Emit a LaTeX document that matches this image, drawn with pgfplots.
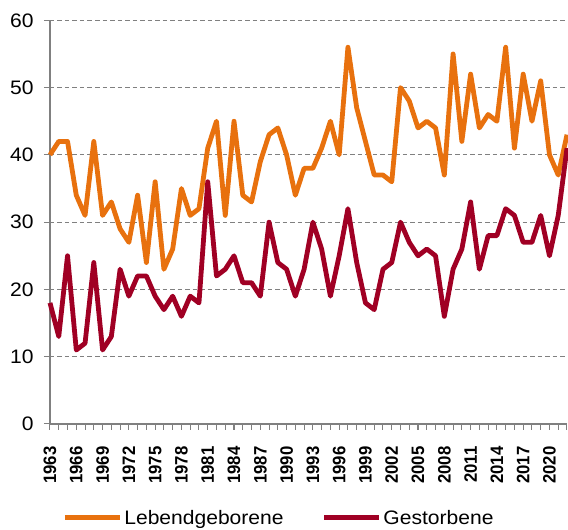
\documentclass[border=0pt]{standalone}
\usepackage{fontspec}
\setmainfont[FakeStretch=1.08]{Liberation Sans}
\usepackage{graphicx}
\usepackage{pgfplots}
\usepackage{pgfplotstable}
\pgfplotsset{compat=1.18}
\definecolor{cOrange}{RGB}{232,113,14}
\definecolor{cRed}{RGB}{160,0,36}
\definecolor{cGray}{RGB}{128,128,128}
\pgfplotstableread{
year geb gest
1963 40 18
1964 42 13
1965 42 25
1966 34 11
1967 31 12
1968 42 24
1969 31 11
1970 33 13
1971 29 23
1972 27 19
1973 34 22
1974 24 22
1975 36 19
1976 23 17
1977 26 19
1978 35 16
1979 31 19
1980 32 18
1981 41 36
1982 45 22
1983 31 23
1984 45 25
1985 34 21
1986 33 21
1987 39 19
1988 43 30
1989 44 24
1990 40 23
1991 34 19
1992 38 23
1993 38 30
1994 41 26
1995 45 19
1996 40 25
1997 56 32
1998 47 24
1999 42 18
2000 37 17
2001 37 23
2002 36 24
2003 50 30
2004 48 27
2005 44 25
2006 45 26
2007 44 25
2008 37 16
2009 55 23
2010 42 26
2011 52 33
2012 44 23
2013 46 28
2014 45 28
2015 56 32
2016 41 31
2017 52 27
2018 45 27
2019 51 31
2020 40 25
2021 37 31
2022 43 41
}\datatable
\begin{document}
\begin{tikzpicture}
\begin{axis}[
  scale only axis,
  width=517pt, height=403.7pt,
  xmin=1963, xmax=2022,
  ymin=0, ymax=60,
  axis lines=left,
  axis line style={cGray, line width=1.4pt, -},
  clip=false,
  ytick={0,10,...,60},
  xtick={1963,1966,...,2020},
  minor xtick={1963,...,2022},
  tick align=outside,
  major tick length=6pt,
  minor tick length=6pt,
  tick style={cGray, line width=1pt},
  ymajorgrids,
  major grid style={cGray, line width=0.9pt, dash pattern=on 4.5pt off 3pt},
  xmajorgrids=false,
  /pgf/number format/assume math mode=true,
  /pgf/number format/1000 sep={},
  yticklabel style={font=\fontsize{19.5}{22}\selectfont, xshift=-7pt},
  xticklabel={\fontsize{18}{20}\selectfont\bfseries\scalebox{0.86}[1]{\pgfmathprintnumber[1000 sep={}]{\tick}}},
  xticklabel style={yshift=-13pt, rotate=90, anchor=east},
  legend columns=2,
  legend style={draw=none, fill=none, at={(0.443,-93.7pt)}, anchor=center,
    font=\fontsize{19.5}{22}\selectfont,
    /tikz/every even column/.append style={column sep=36pt},
    nodes={inner sep=2pt}},
  legend image code/.code={\draw[#1] (0pt,0pt) -- (55pt,0pt);},
  every axis plot/.append style={line width=4.8pt, line join=round},
]
\addplot[cOrange] table[x=year, y=geb] {\datatable};
\addlegendentry{Lebendgeborene}
\addplot[cRed] table[x=year, y=gest] {\datatable};
\addlegendentry{Gestorbene}
\end{axis}
\pgfresetboundingbox
\path[use as bounding box] (-50pt,-106pt) rectangle (518pt,424pt);
\end{tikzpicture}
\end{document}
